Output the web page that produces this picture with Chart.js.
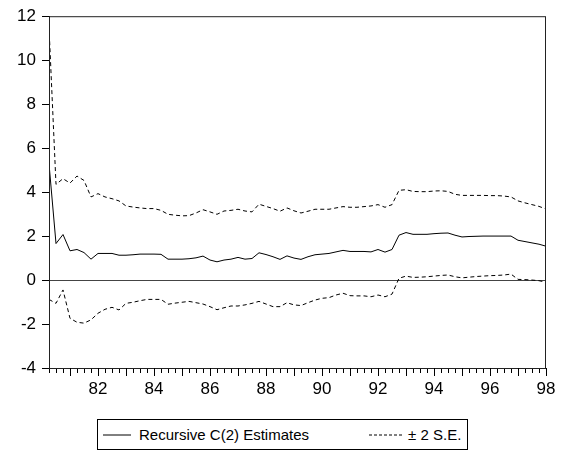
<!DOCTYPE html>
<html lang="en">
<head>
  <meta charset="UTF-8">
  <title>Recursive C(2) Estimates</title>
  <script src="https://cdn.jsdelivr.net/npm/chart.js"></script>
  <style>
    body { margin: 0; background: #fff; font-family: "Liberation Sans", Arial, sans-serif; }
    #wrap { position: relative; width: 565px; height: 453px; }
    #legendBox {
      position: absolute; left: 97px; top: 419px; width: 371px; height: 31px;
      border: 1px solid #000; box-sizing: border-box;
      display: flex; align-items: center; font-size: 15px; color: #000; white-space: nowrap;
    }
    #legendBox svg, #legendBox span { flex-shrink: 0; }
  </style>
  <script>
    // quarterly sample, first obs 1980Q2
    const startYear = 1980;
    const startQuarter = 2;

    const estimates = [
      5.29, 1.66, 2.07, 1.33, 1.39, 1.25, 0.95, 1.21, 1.21, 1.21,
      1.13, 1.13, 1.15, 1.18, 1.18, 1.18, 1.17, 0.95, 0.95, 0.95,
      0.97, 1.01, 1.09, 0.91, 0.83, 0.91, 0.95, 1.03, 0.95, 0.98,
      1.24, 1.16, 1.06, 0.94, 1.10, 1.00, 0.94, 1.06, 1.15, 1.18,
      1.21, 1.28, 1.35, 1.30, 1.30, 1.30, 1.28, 1.39, 1.27, 1.39,
      2.04, 2.16, 2.08, 2.08, 2.08, 2.11, 2.13, 2.14, 2.04, 1.96,
      1.98, 1.99, 2.00, 2.00, 2.00, 2.00, 2.00, 1.81, 1.75, 1.69,
      1.63, 1.54
    ];
    const upperBand = [
      11.5, 4.35, 4.61, 4.41, 4.73, 4.53, 3.78, 3.93, 3.78, 3.70,
      3.60, 3.37, 3.32, 3.28, 3.25, 3.25, 3.17, 2.99, 2.95, 2.92,
      2.93, 3.05, 3.20, 3.10, 2.99, 3.14, 3.17, 3.22, 3.14, 3.10,
      3.45, 3.35, 3.25, 3.13, 3.28, 3.15, 3.05, 3.13, 3.22, 3.22,
      3.22, 3.28, 3.34, 3.31, 3.31, 3.34, 3.37, 3.43, 3.31, 3.43,
      4.08, 4.11, 4.03, 4.02, 4.02, 4.05, 4.06, 4.03, 3.90, 3.85,
      3.85, 3.85, 3.85, 3.84, 3.84, 3.82, 3.78, 3.60, 3.51, 3.43,
      3.35, 3.23
    ];
    const lowerBand = [
      -0.88, -1.06, -0.45, -1.74, -1.92, -1.96, -1.81, -1.51, -1.33, -1.24,
      -1.36, -1.06, -1.01, -0.94, -0.88, -0.88, -0.88, -1.10, -1.05, -1.01,
      -0.97, -1.03, -1.09, -1.21, -1.35, -1.26, -1.18, -1.18, -1.13, -1.06,
      -0.97, -1.09, -1.21, -1.21, -1.03, -1.13, -1.16, -1.03, -0.91, -0.83,
      -0.80, -0.68, -0.60, -0.71, -0.72, -0.72, -0.76, -0.68, -0.76, -0.64,
      0.08, 0.18, 0.12, 0.13, 0.15, 0.18, 0.21, 0.23, 0.15, 0.10,
      0.13, 0.16, 0.18, 0.20, 0.21, 0.23, 0.27, 0.03, 0.02, 0.00,
      -0.03, -0.10
    ];
    const yTicks = [-4, -2, 0, 2, 4, 6, 8, 10, 12];
    const yearLabels = [82, 84, 86, 88, 90, 92, 94, 96, 98];

    const font = { family: '"Liberation Sans", Arial, sans-serif', size: 17 };

    function toPoints(values) {
      return values.map((v, i) => ({ x: startYear + (startQuarter - 1 + i) / 4, y: v }));
    }

    // frame round the plot and the longer ticks at each year
    const framePlugin = {
      id: 'frame',
      afterDraw(chart) {
        const { ctx, chartArea: a, scales } = chart;
        ctx.save();
        ctx.strokeStyle = '#222';
        ctx.lineWidth = 1;
        ctx.strokeRect(a.left + 0.5, a.top + 0.5, a.right - a.left - 1, a.bottom - a.top);
        ctx.strokeStyle = '#000';
        ctx.beginPath();
        for (let yr = Math.ceil(scales.x.min); yr <= scales.x.max; yr++) {
          const px = Math.round(scales.x.getPixelForValue(yr)) + 0.5;
          ctx.moveTo(px, a.bottom);
          ctx.lineTo(px, a.bottom + 8);
        }
        ctx.stroke();
        ctx.restore();
      }
    };

    function drawChart() {
      const ctx = document.getElementById('recChart').getContext('2d');
      new Chart(ctx, {
        type: 'line',
        data: {
          datasets: [
            { label: 'Recursive C(2) Estimates', data: toPoints(estimates), borderColor: '#000', borderWidth: 1 },
            { label: '± 2 S.E.', data: toPoints(upperBand), borderColor: '#000', borderWidth: 1, borderDash: [4, 3] },
            { label: '± 2 S.E.', data: toPoints(lowerBand), borderColor: '#000', borderWidth: 1, borderDash: [4, 3] },
          ],
        },
        options: {
          responsive: false,
          animation: false,
          elements: { point: { radius: 0 }, line: { tension: 0 } },
          layout: { padding: { top: 15, right: 19, left: 0, bottom: 0 } },
          plugins: { legend: { display: false }, tooltip: { enabled: false } },
          scales: {
            x: {
              type: 'linear',
              min: startYear + (startQuarter - 1) / 4,
              max: startYear + (startQuarter - 1 + estimates.length - 1) / 4,
              afterFit: (s) => { s.height = 32; },
              border: { display: true, color: '#000' },
              grid: { drawOnChartArea: false, tickLength: 5, tickColor: '#000' },
              ticks: {
                stepSize: 0.25,
                autoSkip: false,
                maxRotation: 0,
                padding: 6,
                color: '#000',
                font,
                callback: (v) => {
                  const yr = Math.round(v * 4) / 4;
                  return (yr % 1 === 0 && yearLabels.includes(yr % 100)) ? String(yr % 100).padStart(2, '0') : '';
                },
              },
            },
            y: {
              min: yTicks[0],
              max: yTicks[yTicks.length - 1],
              afterFit: (s) => { s.width = 49; },
              border: { display: true, color: '#000' },
              grid: {
                color: (c) => (c.tick && c.tick.value === 0 ? '#444' : 'rgba(0,0,0,0)'),
                tickColor: '#000',
                tickLength: 7,
              },
              ticks: { stepSize: 2, padding: 6, color: '#000', font },
            },
          },
        },
        plugins: [framePlugin],
      });
    }

    document.addEventListener('DOMContentLoaded', drawChart);
  </script>
</head>
<body>
  <div id="wrap">
    <canvas id="recChart" width="565" height="400"></canvas>
    <div id="legendBox">
      <svg width="28" height="4" style="margin:0 8px 0 5px"><line x1="0" y1="2" x2="28" y2="2" stroke="#000" stroke-width="1"/></svg>
      <span>Recursive C(2) Estimates</span>
      <svg width="33" height="4" style="margin:0 6px 0 60px"><line x1="0" y1="2" x2="33" y2="2" stroke="#000" stroke-width="1" stroke-dasharray="3,2"/></svg>
      <span>± 2 S.E.</span>
    </div>
  </div>
</body>
</html>
